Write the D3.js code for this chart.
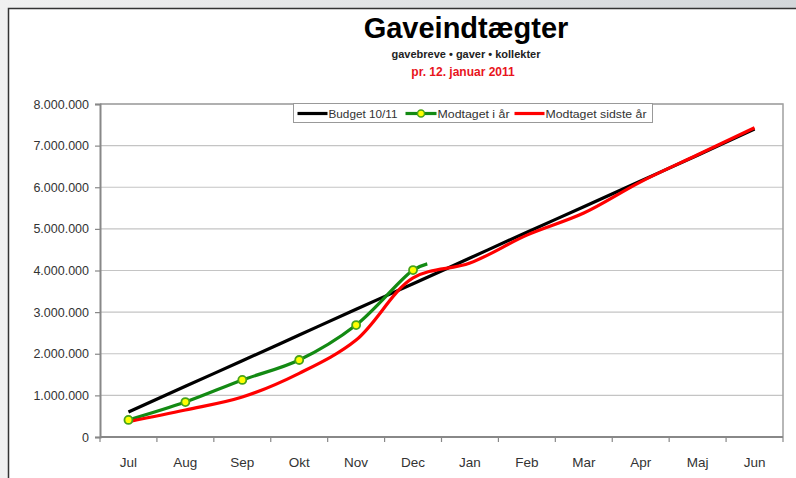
<!DOCTYPE html>
<html lang="da">
<head>
  <meta charset="UTF-8" />
  <title>Gaveindtægter</title>
  <script src="https://d3js.org/d3.v7.min.js"></script>
  <style>
    body {
      margin: 0;
      font-family: Arial, "Liberation Sans", sans-serif;
    }

    .axis-label {
      font-size: 12.5px;
      fill: #333;
    }
  </style>
</head>
<body>
  <div id="chart"></div>
  <script>
    const months = ["Jul", "Aug", "Sep", "Okt", "Nov", "Dec", "Jan", "Feb", "Mar", "Apr", "Maj", "Jun"];

    // Budget 10/11 (cumulative)
    const budget = [600000, 1220000, 1830000, 2450000, 3070000, 3680000, 4300000, 4920000, 5530000, 6150000, 6770000, 7400000];

    // Modtaget i år, one point per month so far
    const thisYear = [410000, 840000, 1370000, 1850000, 2690000, 4010000];
    // last reading (12. januar), drawn without a marker
    const thisYearLast = { pos: 5.25, value: 4160000 };

    // Modtaget sidste år
    const lastYear = [370000, 650000, 960000, 1530000, 2330000, 3820000, 4180000, 4850000, 5380000, 6130000, 6780000, 7430000];

    const yTicks = [0, 1000000, 2000000, 3000000, 4000000, 5000000, 6000000, 7000000, 8000000];

    const W = 796, H = 478;
    const margin = { top: 104, right: 13, bottom: 41, left: 100 };

    const svg = d3.select("#chart").append("svg")
      .attr("width", W)
      .attr("height", H);

    // page background + panel
    const defs = svg.append("defs");
    const grad = defs.append("linearGradient").attr("id", "bg").attr("x1", 0).attr("x2", 1);
    grad.append("stop").attr("offset", 0).attr("stop-color", "#f0f0f0");
    grad.append("stop").attr("offset", 1).attr("stop-color", "#d3d7da");
    svg.append("rect").attr("width", W).attr("height", H).attr("fill", "url(#bg)");
    svg.append("rect")
      .attr("x", 8.5).attr("y", 8.5)
      .attr("width", W).attr("height", H)
      .attr("fill", "#fff")
      .attr("stroke", "#333")
      .attr("stroke-width", 1.5);

    const x = d3.scaleBand()
      .domain(months)
      .range([margin.left, W - margin.right]);

    // numeric position (month index, may be fractional) -> pixel
    const xi = i => x(months[0]) + (i + 0.5) * x.step();

    const y = d3.scaleLinear()
      .domain([0, 8000000])
      .range([H - margin.bottom, margin.top]);

    const fmt = d3.formatLocale({ decimal: ",", thousands: ".", grouping: [3], currency: ["", " kr"] }).format(",d");

    // titles
    svg.append("text")
      .attr("x", 466).attr("y", 38)
      .attr("text-anchor", "middle")
      .attr("font-size", "29px").attr("font-weight", "bold")
      .text("Gaveindtægter");
    svg.append("text")
      .attr("x", 466).attr("y", 58)
      .attr("text-anchor", "middle")
      .attr("font-size", "11px").attr("font-weight", "bold").attr("fill", "#222")
      .text("gavebreve • gaver • kollekter");
    svg.append("text")
      .attr("x", 463).attr("y", 76)
      .attr("text-anchor", "middle")
      .attr("font-size", "12px").attr("font-weight", "bold").attr("fill", "#e8141c")
      .text("pr. 12. januar 2011");

    // gridlines
    svg.append("g")
      .selectAll("line")
      .data(yTicks.slice(1))
      .join("line")
      .attr("x1", margin.left).attr("x2", W - margin.right)
      .attr("y1", d => y(d)).attr("y2", d => y(d))
      .attr("stroke", "#c4c4c4")
      .attr("stroke-width", 1.2);

    // plot area border (top/right)
    svg.append("path")
      .attr("d", `M${margin.left},${margin.top}H${W - margin.right}V${H - margin.bottom}`)
      .attr("fill", "none")
      .attr("stroke", "#a0a0a0")
      .attr("stroke-width", 1.5);

    // y axis
    svg.append("g")
      .attr("transform", `translate(${margin.left},0)`)
      .call(d3.axisLeft(y).tickValues(yTicks).tickFormat(fmt).tickSize(5).tickPadding(6))
      .call(g => g.select(".domain").attr("stroke", "#888").attr("stroke-width", 2))
      .call(g => g.selectAll(".tick line").attr("stroke", "#888").attr("stroke-width", 1.2))
      .call(g => g.selectAll("text").attr("class", "axis-label").attr("font-family", null).attr("font-size", null));

    // x axis, ticks at category boundaries
    const xAxis = svg.append("g")
      .attr("transform", `translate(0,${H - margin.bottom})`);
    xAxis.append("line")
      .attr("x1", margin.left).attr("x2", W - margin.right)
      .attr("stroke", "#888").attr("stroke-width", 2);
    xAxis.selectAll(".bt")
      .data(d3.range(months.length + 1))
      .join("line")
      .attr("x1", i => xi(i - 0.5)).attr("x2", i => xi(i - 0.5))
      .attr("y1", 0).attr("y2", 5)
      .attr("stroke", "#888").attr("stroke-width", 1.2);
    xAxis.selectAll("text")
      .data(months)
      .join("text")
      .attr("class", "axis-label")
      .attr("x", d => x(d) + x.bandwidth() / 2)
      .attr("y", 30)
      .attr("text-anchor", "middle")
      .style("font-size", "13.5px")
      .text(d => d);

    const line = d3.line()
      .x(d => xi(d.pos))
      .y(d => y(d.value))
      .curve(d3.curveCatmullRom.alpha(0.5));

    const budgetPts = budget.map((v, i) => ({ pos: i, value: v }));
    const lastPts = lastYear.map((v, i) => ({ pos: i, value: v }));
    const thisPts = thisYear.map((v, i) => ({ pos: i, value: v })).concat([thisYearLast]);

    svg.append("path")
      .attr("d", line(budgetPts))
      .attr("fill", "none").attr("stroke", "#000").attr("stroke-width", 3.2);

    svg.append("path")
      .attr("d", line(thisPts))
      .attr("fill", "none").attr("stroke", "#138a13").attr("stroke-width", 3.2);

    svg.append("path")
      .attr("d", line(lastPts))
      .attr("fill", "none").attr("stroke", "#ff0000").attr("stroke-width", 3.2);

    svg.append("g")
      .selectAll("circle")
      .data(thisPts.slice(0, thisYear.length))
      .join("circle")
      .attr("cx", d => xi(d.pos))
      .attr("cy", d => y(d.value))
      .attr("r", 4)
      .attr("fill", "#ffff00")
      .attr("stroke", "#47a31a")
      .attr("stroke-width", 1.8);

    // legend
    const lg = svg.append("g").attr("transform", "translate(293.5,103.5)");
    lg.append("rect")
      .attr("width", 359).attr("height", 19)
      .attr("fill", "#fff").attr("stroke", "#999");
    const items = [
      { label: "Budget 10/11", color: "#000", x0: 4, x1: 34, tx: 35, tw: 69, marker: false },
      { label: "Modtaget i år", color: "#138a13", x0: 112, x1: 143, tx: 144, tw: 72, marker: true },
      { label: "Modtaget sidste år", color: "#ff0000", x0: 221, x1: 251, tx: 252, tw: 101, marker: false }
    ];
    items.forEach(it => {
      lg.append("line")
        .attr("x1", it.x0).attr("x2", it.x1)
        .attr("y1", 10).attr("y2", 10)
        .attr("stroke", it.color).attr("stroke-width", 3.2);
      if (it.marker) {
        lg.append("circle")
          .attr("cx", (it.x0 + it.x1) / 2).attr("cy", 10).attr("r", 3.5)
          .attr("fill", "#ffff00").attr("stroke", "#47a31a").attr("stroke-width", 1.5);
      }
      lg.append("text")
        .attr("x", it.tx).attr("y", 14)
        .attr("font-size", "11px").attr("fill", "#333")
        .attr("textLength", it.tw).attr("lengthAdjust", "spacingAndGlyphs")
        .text(it.label);
    });
  </script>
</body>
</html>
